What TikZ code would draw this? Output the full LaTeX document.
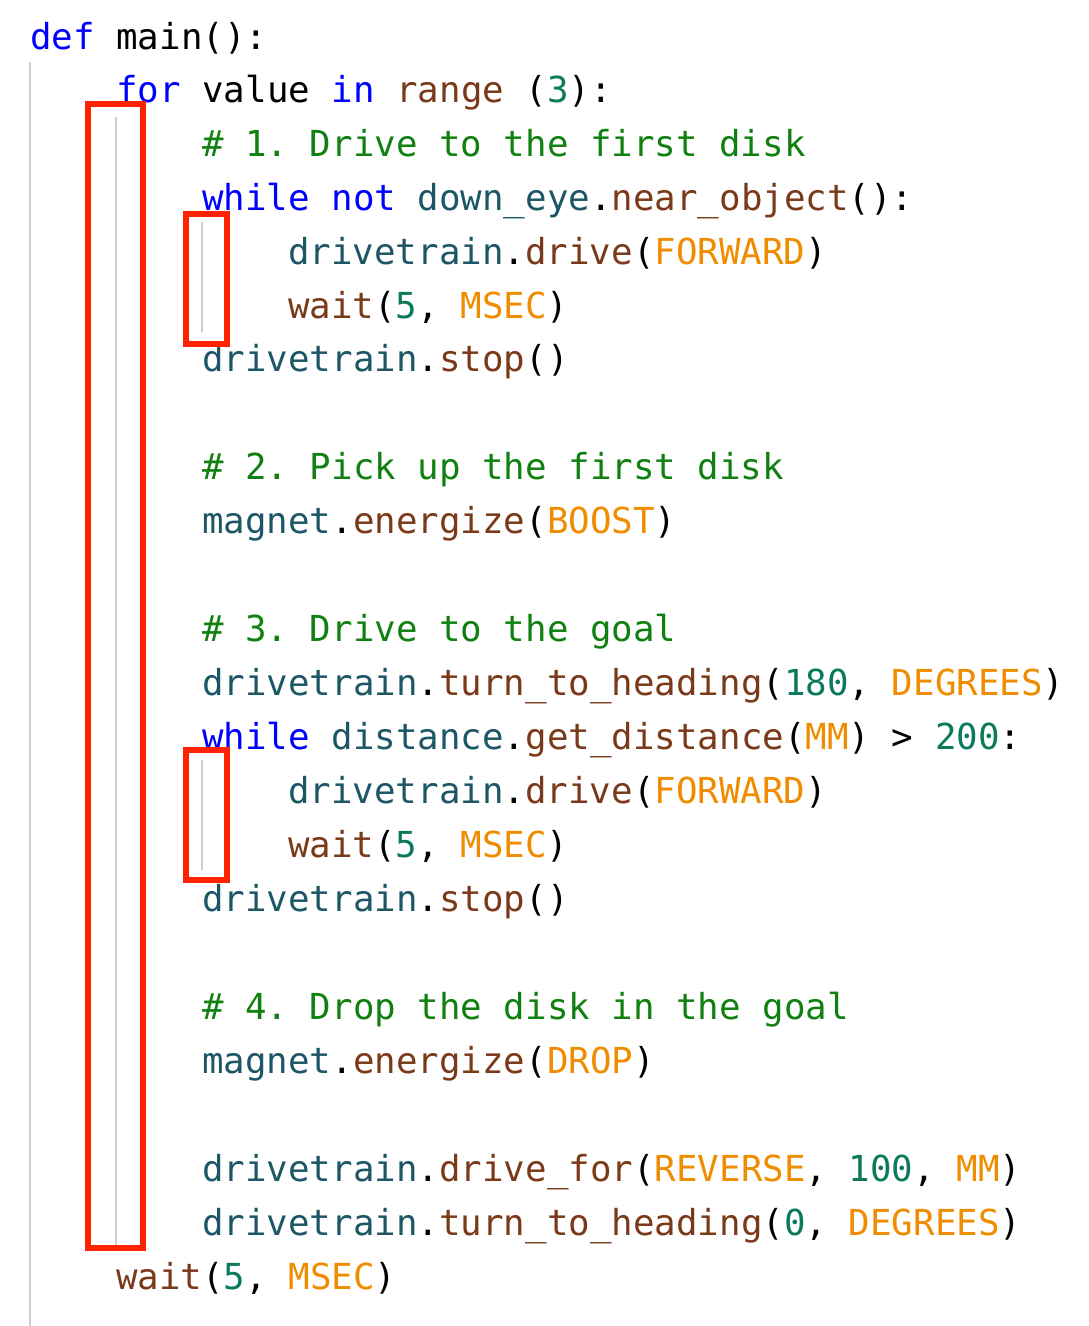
\documentclass[tikz,border=0pt]{standalone}
\usepackage{fontspec}
\setmonofont{DejaVu Sans Mono}
\definecolor{kwc}{HTML}{0000FF}
\definecolor{idc}{HTML}{1D5766}
\definecolor{fnc}{HTML}{7A3A1A}
\definecolor{cnc}{HTML}{F08C00}
\definecolor{nmc}{HTML}{0B7A5C}
\definecolor{cmc}{HTML}{108010}
\definecolor{redc}{HTML}{FF2200}
\definecolor{guide}{HTML}{CCCCCC}
\newcommand{\kw}[1]{\textcolor{kwc}{#1}}
\newcommand{\idn}[1]{\textcolor{idc}{#1}}
\newcommand{\fn}[1]{\textcolor{fnc}{#1}}
\newcommand{\cn}[1]{\textcolor{cnc}{#1}}
\newcommand{\nm}[1]{\textcolor{nmc}{#1}}
\newcommand{\cm}[1]{\textcolor{cmc}{#1}}
\begin{document}
\begin{tikzpicture}[x=1pt,y=-1pt,
  code/.style={anchor=base west,inner sep=0pt,font=\ttfamily\fontsize{35.8}{36}\selectfont},
  guideline/.style={draw=guide,line width=1.5pt},
  hl/.style={draw=redc,line width=6pt}]
\useasboundingbox (0,0) rectangle (1088,1326);
\draw[guideline] (30,62) -- (30,1326);
\draw[guideline] (116,117) -- (116,1250);
\draw[guideline] (202,222) -- (202,332);
\draw[guideline] (202,760) -- (202,870);
\node[code] (l1) at (30,49) {\kw{def} main():};
\node[code] (l2) at (116,102) {\kw{for} value \kw{in} \fn{range} (\nm{3}):};
\node[code] (l3) at (202,156) {\cm{\# 1. Drive to the first disk}};
\node[code] (l4) at (202,210) {\kw{while} \kw{not} \idn{down\_eye}.\fn{near\_object}():};
\node[code] (l5) at (288,264) {\idn{drivetrain}.\fn{drive}(\cn{FORWARD})};
\node[code] (l6) at (288,318) {\fn{wait}(\nm{5}, \cn{MSEC})};
\node[code] (l7) at (202,371) {\idn{drivetrain}.\fn{stop}()};
\node[code] (l8) at (202,479) {\cm{\# 2. Pick up the first disk}};
\node[code] (l9) at (202,533) {\idn{magnet}.\fn{energize}(\cn{BOOST})};
\node[code] (l10) at (202,641) {\cm{\# 3. Drive to the goal}};
\node[code] (l11) at (202,695) {\idn{drivetrain}.\fn{turn\_to\_heading}(\nm{180}, \cn{DEGREES})};
\node[code] (l12) at (202,749) {\kw{while} \idn{distance}.\fn{get\_distance}(\cn{MM}) > \nm{200}:};
\node[code] (l13) at (288,803) {\idn{drivetrain}.\fn{drive}(\cn{FORWARD})};
\node[code] (l14) at (288,857) {\fn{wait}(\nm{5}, \cn{MSEC})};
\node[code] (l15) at (202,911) {\idn{drivetrain}.\fn{stop}()};
\node[code] (l16) at (202,1019) {\cm{\# 4. Drop the disk in the goal}};
\node[code] (l17) at (202,1073) {\idn{magnet}.\fn{energize}(\cn{DROP})};
\node[code] (l18) at (202,1181) {\idn{drivetrain}.\fn{drive\_for}(\cn{REVERSE}, \nm{100}, \cn{MM})};
\node[code] (l19) at (202,1235) {\idn{drivetrain}.\fn{turn\_to\_heading}(\nm{0}, \cn{DEGREES})};
\node[code] (l20) at (116,1289) {\fn{wait}(\nm{5}, \cn{MSEC})};
\draw[hl] (88,104) rectangle (143,1248);
\draw[hl] (186,214) rectangle (227,344);
\draw[hl] (186,750) rectangle (227,880);
\end{tikzpicture}
\end{document}
